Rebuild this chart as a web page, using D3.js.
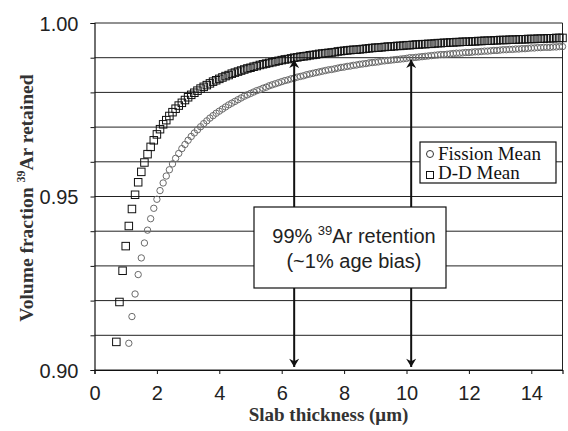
<!DOCTYPE html>
<html>
<head>
<meta charset="utf-8">
<script src="https://d3js.org/d3.v7.min.js"></script>
<style>
  body { margin: 0; background: #fff; }
  .tick text { font-family: "Liberation Sans", Arial, sans-serif; font-size: 20px; fill: #222; }
</style>
</head>
<body>
<svg id="chart"></svg>
<script>
// slab thickness (um), shared by both series
const thickness = [0.7,0.8,0.9,1.0,1.1,1.2,1.3,1.4,1.5,1.6,1.7,1.8,1.9,2.0,2.1,2.2,2.3,2.4,2.5,2.6,2.7,2.8,2.9,3.0,
  3.1,3.2,3.3,3.4,3.5,3.6,3.7,3.8,3.9,4.0,4.1,4.2,4.3,4.4,4.5,4.6,4.7,4.8,4.9,5.0,5.1,5.2,5.3,5.4,5.5,5.6,5.7,5.8,5.9,6.0,
  6.1,6.2,6.3,6.4,6.5,6.6,6.7,6.8,6.9,7.0,7.1,7.2,7.3,7.4,7.5,7.6,7.7,7.8,7.9,8.0,8.1,8.2,8.3,8.4,8.5,8.6,8.7,8.8,8.9,9.0,
  9.1,9.2,9.3,9.4,9.5,9.6,9.7,9.8,9.9,10.0,10.1,10.2,10.3,10.4,10.5,10.6,10.7,10.8,10.9,11.0,11.1,11.2,11.3,11.4,11.5,11.6,
  11.7,11.8,11.9,12.0,12.1,12.2,12.3,12.4,12.5,12.6,12.7,12.8,12.9,13.0,13.1,13.2,13.3,13.4,13.5,13.6,13.7,13.8,13.9,14.0,
  14.1,14.2,14.3,14.4,14.5,14.6,14.7,14.8,14.9,15.0];

// D-D mean, volume fraction retained
const ddMean = [0.9081,0.9196,0.9286,0.9357,0.9415,0.9464,0.9505,0.9541,0.9571,0.9598,0.9622,0.9643,0.9662,0.9679,
  0.9694,0.9708,0.9720,0.9732,0.9743,0.9753,0.9762,0.9770,0.9778,0.9786,0.9793,0.9799,0.9805,0.9811,0.9816,0.9821,
  0.9826,0.9831,0.9835,0.9839,0.9843,0.9847,0.9850,0.9854,0.9857,0.9860,0.9863,0.9866,0.9869,0.9871,0.9874,0.9876,
  0.9879,0.9881,0.9883,0.9885,0.9887,0.9889,0.9891,0.9893,0.9895,0.9896,0.9898,0.9900,0.9901,0.9903,0.9904,0.9905,
  0.9907,0.9908,0.9909,0.9911,0.9912,0.9913,0.9914,0.9915,0.9916,0.9918,0.9919,0.9920,0.9921,0.9922,0.9923,0.9923,
  0.9924,0.9925,0.9926,0.9927,0.9928,0.9929,0.9929,0.9930,0.9931,0.9932,0.9932,0.9933,0.9934,0.9934,0.9935,0.9936,
  0.9936,0.9937,0.9938,0.9938,0.9939,0.9939,0.9940,0.9940,0.9941,0.9942,0.9942,0.9943,0.9943,0.9944,0.9944,0.9945,
  0.9945,0.9946,0.9946,0.9946,0.9947,0.9947,0.9948,0.9948,0.9949,0.9949,0.9949,0.9950,0.9950,0.9951,0.9951,0.9951,
  0.9952,0.9952,0.9952,0.9953,0.9953,0.9953,0.9954,0.9954,0.9954,0.9955,0.9955,0.9955,0.9956,0.9956,0.9956,0.9957,
  0.9957,0.9957];

// Fission mean (no points below 1.1 um)
const fissionMean = [null,null,null,null,0.9077,0.9154,0.9219,0.9275,0.9323,0.9366,0.9403,0.9436,0.9466,0.9492,
  0.9517,0.9539,0.9559,0.9577,0.9594,0.9610,0.9624,0.9638,0.9650,0.9662,0.9673,0.9683,0.9692,0.9701,0.9710,0.9718,
  0.9726,0.9733,0.9740,0.9746,0.9752,0.9758,0.9764,0.9769,0.9774,0.9779,0.9784,0.9789,0.9793,0.9797,0.9801,0.9805,
  0.9808,0.9812,0.9815,0.9819,0.9822,0.9825,0.9828,0.9831,0.9834,0.9836,0.9839,0.9841,0.9844,0.9846,0.9848,0.9851,
  0.9853,0.9855,0.9857,0.9859,0.9861,0.9863,0.9865,0.9866,0.9868,0.9870,0.9872,0.9873,0.9875,0.9876,0.9878,0.9879,
  0.9881,0.9882,0.9883,0.9885,0.9886,0.9887,0.9888,0.9890,0.9891,0.9892,0.9893,0.9894,0.9895,0.9896,0.9897,0.9898,
  0.9900,0.9900,0.9901,0.9902,0.9903,0.9904,0.9905,0.9906,0.9907,0.9908,0.9909,0.9909,0.9910,0.9911,0.9912,0.9913,
  0.9913,0.9914,0.9915,0.9915,0.9916,0.9917,0.9917,0.9918,0.9919,0.9919,0.9920,0.9921,0.9921,0.9922,0.9923,0.9923,
  0.9924,0.9924,0.9925,0.9925,0.9926,0.9926,0.9927,0.9928,0.9928,0.9929,0.9929,0.9930,0.9930,0.9930,0.9931,0.9931,
  0.9932,0.9932];

const xTicks = [0, 2, 4, 6, 8, 10, 12, 14];
const yGrid = [0.90, 0.91, 0.92, 0.93, 0.94, 0.95, 0.96, 0.97, 0.98, 0.99, 1.00];
const yLabels = [0.90, 0.95, 1.00];
// 99% retention thickness for each series
const arrowX = [6.4, 10.15];

const svgWidth = 568, svgHeight = 431;
const margin = { top: 23, right: 5.5, bottom: 61, left: 94.5 };
const width = svgWidth - margin.left - margin.right;
const height = svgHeight - margin.top - margin.bottom;

const svgRoot = d3.select("#chart").attr("width", svgWidth).attr("height", svgHeight);
svgRoot.append("defs").append("marker")
  .attr("id", "head")
  .attr("markerUnits", "userSpaceOnUse")
  .attr("viewBox", "0 0 10 12")
  .attr("refX", 10).attr("refY", 6)
  .attr("markerWidth", 11).attr("markerHeight", 10)
  .attr("orient", "auto")
  .append("path").attr("d", "M0,0 L10,6 L0,12 L3,6 Z").attr("fill", "#111");

const svg = svgRoot.append("g").attr("transform", `translate(${margin.left},${margin.top})`);

const xScale = d3.scaleLinear().domain([0, 15]).range([0, width]);
const yScale = d3.scaleLinear().domain([0.90, 1.00]).range([height, 0]);

// horizontal grid
svg.append("g").selectAll("line").data(yGrid).join("line")
  .attr("x1", 0).attr("x2", width)
  .attr("y1", d => yScale(d)).attr("y2", d => yScale(d))
  .attr("stroke", "#222").attr("stroke-width", 1);

// right border
svg.append("line").attr("x1", width).attr("x2", width).attr("y1", 0).attr("y2", height)
  .attr("stroke", "#222");

// axes
const xAxis = svg.append("g").attr("transform", `translate(0,${height})`)
  .call(d3.axisBottom(xScale).tickValues(xTicks).tickSize(4).tickPadding(12).tickFormat(d3.format("d")));
const yAxis = svg.append("g")
  .call(d3.axisLeft(yScale).tickValues(yGrid).tickSize(4).tickPadding(12)
    .tickFormat(d => yLabels.some(v => Math.abs(v - d) < 1e-9) ? d3.format(".2f")(d) : ""));
[xAxis, yAxis].forEach(a => {
  a.select(".domain").attr("stroke", "#111").attr("stroke-width", 1.2);
  a.selectAll(".tick line").attr("stroke", "#111");
});
yAxis.selectAll(".tick text").attr("dy", "0.36em");

// series
const points = thickness.map((t, i) => ({ t, dd: ddMean[i], fi: fissionMean[i] }));

svg.append("g").selectAll("circle").data(points.filter(d => d.fi !== null)).join("circle")
  .attr("cx", d => xScale(d.t)).attr("cy", d => yScale(d.fi))
  .attr("r", 3.2).attr("fill", "none").attr("stroke", "#6a6a6a").attr("stroke-width", 1);

const sq = 7.5;
svg.append("g").selectAll("rect").data(points).join("rect")
  .attr("x", d => xScale(d.t) - sq / 2).attr("y", d => yScale(d.dd) - sq / 2)
  .attr("width", sq).attr("height", sq)
  .attr("fill", "none").attr("stroke", "#111").attr("stroke-width", 1);

// annotation box + arrows
const box = { x: 254 - margin.left, y: 207 - margin.top, w: 192, h: 81 };

arrowX.forEach(a => {
  svg.append("line")
    .attr("x1", xScale(a)).attr("x2", xScale(a))
    .attr("y1", box.y).attr("y2", yScale(0.99) + 2)
    .attr("stroke", "#111").attr("stroke-width", 2)
    .attr("marker-end", "url(#head)");
  svg.append("line")
    .attr("x1", xScale(a)).attr("x2", xScale(a))
    .attr("y1", box.y + box.h).attr("y2", yScale(0.90) - 3)
    .attr("stroke", "#111").attr("stroke-width", 2)
    .attr("marker-end", "url(#head)");
});

svg.append("rect").attr("x", box.x).attr("y", box.y).attr("width", box.w).attr("height", box.h)
  .attr("fill", "#fff").attr("stroke", "#111").attr("stroke-width", 1.2);

const boxText = svg.append("text")
  .attr("x", box.x + 100).attr("y", box.y + 36)
  .attr("text-anchor", "middle")
  .style("font-family", "'Liberation Sans', Arial, sans-serif").style("font-size", "20px").attr("fill", "#222");
boxText.append("tspan").text("99% ");
boxText.append("tspan").attr("dy", -8).style("font-size", "13px").text("39");
boxText.append("tspan").attr("dy", 8).text("Ar retention");
svg.append("text")
  .attr("x", box.x + 100).attr("y", box.y + 61)
  .attr("text-anchor", "middle")
  .style("font-family", "'Liberation Sans', Arial, sans-serif").style("font-size", "20px").attr("fill", "#222")
  .text("(~1% age bias)");

// legend
const lg = svgRoot.append("g").attr("transform", "translate(420,142)");
lg.append("rect").attr("width", 136).attr("height", 41)
  .attr("fill", "#fff").attr("stroke", "#111").attr("stroke-width", 1.2);
lg.append("circle").attr("cx", 10).attr("cy", 12).attr("r", 3.5)
  .attr("fill", "none").attr("stroke", "#333");
lg.append("rect").attr("x", 6.5).attr("y", 29.5).attr("width", 7).attr("height", 7)
  .attr("fill", "none").attr("stroke", "#111");
lg.selectAll("text").data(["Fission Mean", "D-D Mean"]).join("text")
  .attr("x", 18).attr("y", (d, i) => 18 + i * 18.5)
  .style("font-family", "'Liberation Serif', 'Times New Roman', serif").style("font-size", "19px")
  .attr("fill", "#111").text(d => d);

// axis titles
svgRoot.append("text")
  .attr("x", margin.left + width / 2).attr("y", 421)
  .attr("text-anchor", "middle")
  .style("font-family", "'Liberation Serif', 'Times New Roman', serif").style("font-size", "19px").style("font-weight", "bold")
  .attr("fill", "#333")
  .text("Slab thickness (\u03bcm)");

const yTitle = svgRoot.append("text")
  .attr("transform", "translate(33,198) rotate(-90)")
  .attr("text-anchor", "middle")
  .style("font-family", "'Liberation Serif', 'Times New Roman', serif").style("font-size", "19.5px").style("font-weight", "bold")
  .attr("fill", "#333");
yTitle.append("tspan").text("Volume fraction ");
yTitle.append("tspan").attr("dy", -8).style("font-size", "12px").text("39");
yTitle.append("tspan").attr("dy", 8).text("Ar retained");
</script>
</body>
</html>
